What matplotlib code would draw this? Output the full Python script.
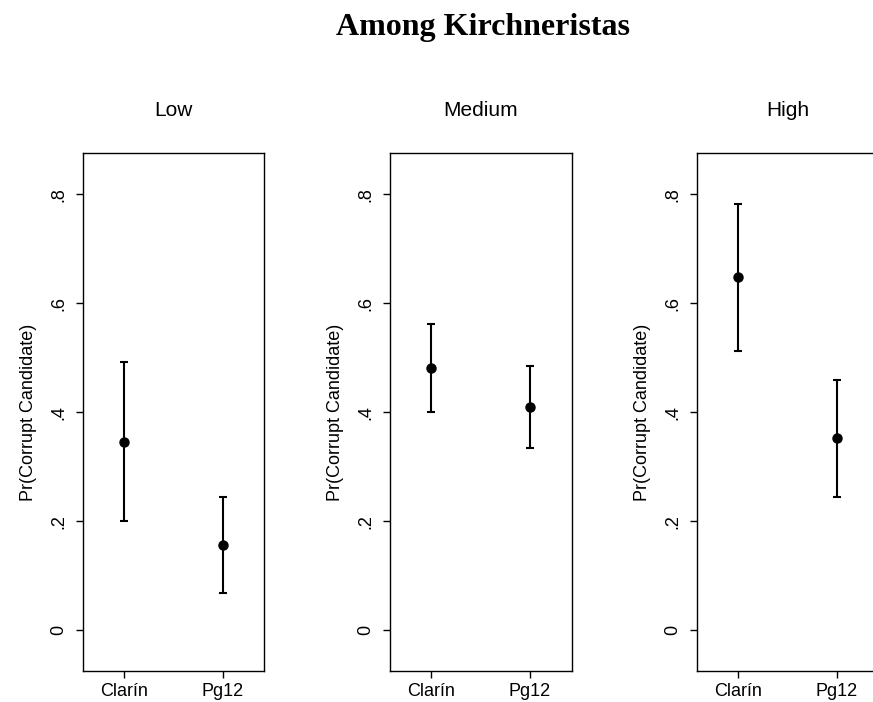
import matplotlib
matplotlib.use("Agg")
import matplotlib.pyplot as plt

# ---- data ----
outlets = ["Clarín", "Pg12"]
panels = ["Low", "Medium", "High"]
low_est = [0.346, 0.156]
low_lo = [0.200, 0.068]
low_hi = [0.492, 0.245]
med_est = [0.481, 0.409]
med_lo = [0.400, 0.335]
med_hi = [0.562, 0.485]
high_est = [0.648, 0.352]
high_lo = [0.513, 0.245]
high_hi = [0.782, 0.459]
yticks = [0, 0.2, 0.4, 0.6, 0.8]
yticklabels = ["0", ".2", ".4", ".6", ".8"]
title = "Among Kirchneristas"
ylabel = "Pr(Corrupt Candidate)"

series = [(low_est, low_lo, low_hi), (med_est, med_lo, med_hi), (high_est, high_lo, high_hi)]

plt.rcParams['font.family'] = ['Liberation Sans', 'DejaVu Sans']

W, H = 873, 702
fig = plt.figure(figsize=(W / 100, H / 100), dpi=100)
fig.patch.set_facecolor("white")

lefts_px = [82.7, 390.0, 697.0]
ax_w_px = 181.6
top_px, bot_px = 153.3, 671.0

for i, (name, (est, lo, hi)) in enumerate(zip(panels, series)):
    ax = fig.add_axes([lefts_px[i] / W, (H - bot_px) / H, ax_w_px / W, (bot_px - top_px) / H])
    x = [1, 2]
    yerr = [[e - l for e, l in zip(est, lo)], [h - e for e, h in zip(est, hi)]]
    ax.errorbar(x, est, yerr=yerr, fmt='o', color='black', ms=6.5, elinewidth=1.5,
                capsize=3.2, capthick=1.5)
    ax.set_xlim(0.585, 2.42)
    ax.set_ylim(-0.075, 0.875)
    ax.set_xticks(x)
    ax.set_xticklabels(outlets, fontsize=13)
    ax.set_yticks(yticks)
    ax.set_yticklabels(yticklabels, fontsize=13, rotation=90, va='center')
    ax.tick_params(axis='both', length=5, width=1, color='black', pad=4)
    ax.tick_params(axis='y', pad=6)
    ax.set_ylabel(ylabel, fontsize=13, labelpad=10)
    for s in ax.spines.values():
        s.set_color('black')
        s.set_linewidth(1.0)
    ax.text(0.5, 1.083, name, transform=ax.transAxes, ha='center', va='center', fontsize=15)

fig.text(483 / W, 1 - 27 / H, title, ha='center', va='center', fontsize=23,
         fontweight='bold', family=['Liberation Serif', 'DejaVu Serif'])

fig.savefig("out.png", dpi=100, facecolor="white")
